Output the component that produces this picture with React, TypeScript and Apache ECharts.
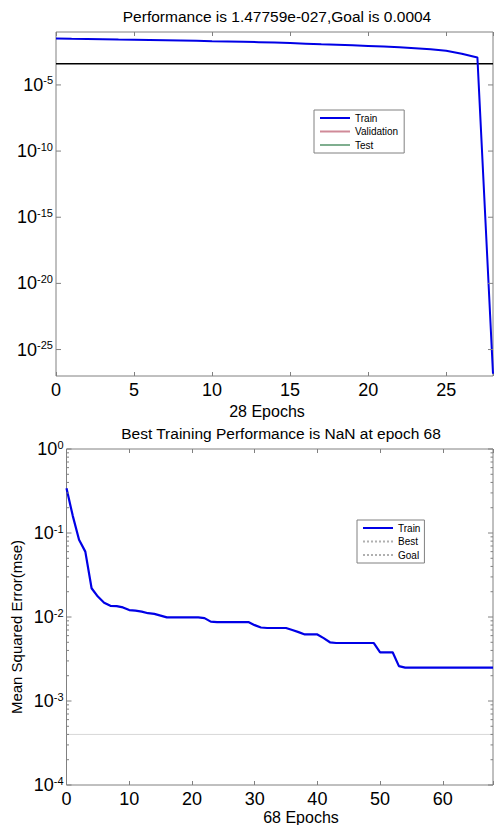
import React, { useEffect, useRef } from 'react';
import * as echarts from 'echarts';

const FONT = '"Liberation Sans", Arial, Helvetica, sans-serif';
const AXIS = '#808080';
const BLUE = '#0000e6';

// ---- Top chart data ----
const topTitle = 'Performance is 1.47759e-027,Goal is 0.0004';
const topXLabel = '28 Epochs';
const topEpochs = [0, 1, 2, 3, 4, 5, 6, 7, 8, 9, 10, 11, 12, 13, 14, 15, 16, 17, 18, 19, 20, 21, 22, 23, 24, 25, 26, 27, 28];
const topTrain = [
  0.0324, 0.0309, 0.0302, 0.0288, 0.0275, 0.0263, 0.0251, 0.024, 0.0229, 0.0219,
  0.0204, 0.0195, 0.0182, 0.017, 0.0158, 0.0145, 0.0132, 0.012, 0.011, 0.01,
  0.0089, 0.0079, 0.0069, 0.006, 0.005, 0.0038, 0.0023, 0.0012, 1.47759e-27,
];
const topGoal = 0.0004;
const topYMajor = [1e-25, 1e-20, 1e-15, 1e-10, 1e-5];
const topLegend = ['Train', 'Validation', 'Test'];

// ---- Bottom chart data ----
const botTitle = 'Best Training Performance is NaN at epoch 68';
const botXLabel = '68 Epochs';
const botYLabel = 'Mean Squared Error(mse)';
const botEpochs = [
  0, 1, 2, 3, 4, 5, 6, 7, 8, 9, 10, 11, 12, 13, 14, 15, 16, 17, 18, 19, 20, 21, 22, 23, 24, 25, 26, 27, 28, 29,
  30, 31, 32, 33, 34, 35, 36, 37, 38, 39, 40, 41, 42, 43, 44, 45, 46, 47, 48, 49, 50, 51, 52, 53, 54, 55, 56, 57, 58, 59,
  60, 61, 62, 63, 64, 65, 66, 67, 68,
];
const botTrain = [
  0.34, 0.16, 0.083, 0.06, 0.022, 0.0175, 0.0148, 0.0136, 0.0135, 0.013,
  0.0121, 0.0119, 0.0116, 0.0111, 0.0109, 0.0104, 0.0099, 0.0099, 0.0099, 0.0099,
  0.0099, 0.0099, 0.0097, 0.0088, 0.0087, 0.0087, 0.0087, 0.0087, 0.0087, 0.0087,
  0.008, 0.0075, 0.0074, 0.0074, 0.0074, 0.0074, 0.007, 0.0066, 0.0062, 0.0062,
  0.0062, 0.0056, 0.005, 0.0049, 0.0049, 0.0049, 0.0049, 0.0049, 0.0049, 0.0049,
  0.0038, 0.0038, 0.0038, 0.0026, 0.0025, 0.0025, 0.0025, 0.0025, 0.0025, 0.0025,
  0.0025, 0.0025, 0.0025, 0.0025, 0.0025, 0.0025, 0.0025, 0.0025, 0.0025,
];
const botGoal = 0.0004;
const botYMajor = [1e-4, 1e-3, 1e-2, 1e-1, 1];
const botMinorMantissas = [2, 3, 4, 5, 6, 7, 8, 9];
const botMinorDecades = [1e-4, 1e-3, 1e-2, 1e-1];
const botLegend = ['Train', 'Best', 'Goal'];

const botYMinor: number[] = [];
botMinorDecades.forEach((d) => botMinorMantissas.forEach((m) => botYMinor.push(m * d)));

const supRich = {
  b: { fontSize: 18, fontFamily: FONT, color: '#000', fill: '#000', lineHeight: 20 },
  s: { fontSize: 11, fontFamily: FONT, color: '#000', fill: '#000', verticalAlign: 'top', lineHeight: 12 },
};

const expLabel = (v: number) => `{b|10}{s|${Math.round(Math.log10(v))}}`;

// custom series: y ticks on both sides (and optional labels on the left), placed via axis scale
function yTicks(xAxisIndex: number, yAxisIndex: number, xMin: number, xMax: number, ticks: number[], len: number, labels: boolean) {
  return {
    type: 'custom',
    xAxisIndex,
    yAxisIndex,
    silent: true,
    clip: false,
    z: 5,
    encode: { x: 0, y: 1 },
    data: ticks.map((v) => [xMin, v]),
    renderItem: (_params: any, api: any) => {
      const v = api.value(1);
      const a = api.coord([xMin, v]);
      const b = api.coord([xMax, v]);
      const st = { stroke: AXIS, lineWidth: 1 };
      const children: any[] = [
        { type: 'line', shape: { x1: a[0], y1: a[1], x2: a[0] + len, y2: a[1] }, style: st },
        { type: 'line', shape: { x1: b[0] - len, y1: b[1], x2: b[0], y2: b[1] }, style: st },
      ];
      if (labels) {
        children.push({
          type: 'text',
          x: a[0] - 3,
          y: a[1],
          style: { text: expLabel(v), rich: supRich, align: 'right', verticalAlign: 'middle' },
        });
      }
      return { type: 'group', children };
    },
  };
}

function xAxis(gridIndex: number, max: number, interval: number, position: string, labels: boolean) {
  return {
    type: 'value',
    gridIndex,
    min: 0,
    max,
    interval,
    position,
    axisLine: { show: false },
    axisTick: { show: true, inside: true, length: 4, lineStyle: { color: AXIS } },
    splitLine: { show: false },
    axisLabel: labels
      ? {
          show: true,
          margin: 5,
          fontSize: 18,
          fontFamily: FONT,
          color: '#000',
          formatter: (v: number) => (v % interval === 0 ? String(v) : ''),
        }
      : { show: false },
  };
}

const legendCommon = {
  orient: 'vertical',
  itemWidth: 30,
  itemHeight: 10,
  itemGap: 3.5,
  backgroundColor: '#fff',
  borderColor: AXIS,
  borderWidth: 1,
  borderRadius: 0,
  selectedMode: false,
  itemStyle: { opacity: 0, borderWidth: 0 },
  textStyle: { fontSize: 10, fontFamily: FONT, color: '#000' },
};

export default function App() {
  const ref = useRef<HTMLDivElement>(null);
  useEffect(() => {
    if (!ref.current) return;
    const chart = echarts.init(ref.current, undefined, { renderer: 'svg' });
    const gridCommon = { show: true, borderColor: AXIS, borderWidth: 1, backgroundColor: '#fff' };
    const option: any = {
      animation: false,
      backgroundColor: '#fff',
      grid: [
        { ...gridCommon, left: 56, top: 32, width: 440, height: 344 },
        { ...gridCommon, left: 66.5, top: 449, width: 430, height: 336 },
      ],
      xAxis: [
        xAxis(0, 28, 5, 'bottom', true),
        xAxis(0, 28, 5, 'top', false),
        xAxis(1, 68, 10, 'bottom', true),
        xAxis(1, 68, 10, 'top', false),
      ],
      yAxis: [
        {
          type: 'log',
          gridIndex: 0,
          logBase: 10,
          min: 1e-27,
          max: 1e-1,
          axisLine: { show: false },
          axisTick: { show: false },
          splitLine: { show: false },
          axisLabel: { show: false },
        },
        {
          type: 'log',
          gridIndex: 1,
          logBase: 10,
          min: 1e-4,
          max: 1,
          axisLine: { show: false },
          axisTick: { show: false },
          splitLine: { show: false },
          axisLabel: { margin: 3, rich: supRich, formatter: expLabel },
        },
      ],
      legend: [
        { ...legendCommon, data: topLegend, left: 314, top: 110, padding: [3, 6, 3, 5] },
        { ...legendCommon, data: botLegend, left: 357, top: 520, padding: [3, 4, 3, 5] },
      ],
      graphic: [
        { type: 'text', x: 277, y: 16, style: { text: topTitle, fontSize: 15.5, fontFamily: FONT, fill: '#000', align: 'center', verticalAlign: 'middle' } },
        { type: 'text', x: 267, y: 411, style: { text: topXLabel, fontSize: 16, fontFamily: FONT, fill: '#000', align: 'center', verticalAlign: 'middle' } },
        { type: 'text', x: 281, y: 433, style: { text: botTitle, fontSize: 15.5, fontFamily: FONT, fill: '#000', align: 'center', verticalAlign: 'middle' } },
        { type: 'text', x: 301, y: 817.5, style: { text: botXLabel, fontSize: 16, fontFamily: FONT, fill: '#000', align: 'center', verticalAlign: 'middle' } },
        { type: 'text', x: 16.5, y: 627, rotation: Math.PI / 2, style: { text: botYLabel, fontSize: 15, fontFamily: FONT, fill: '#000', align: 'center', verticalAlign: 'middle' } },
      ],
      series: [
        {
          name: 'Goal line',
          type: 'line',
          xAxisIndex: 0,
          yAxisIndex: 0,
          symbol: 'none',
          silent: true,
          lineStyle: { color: '#000', width: 1.6 },
          data: [[topEpochs[0], topGoal], [topEpochs[topEpochs.length - 1], topGoal]],
          z: 3,
        },
        {
          name: 'Train',
          type: 'line',
          xAxisIndex: 0,
          yAxisIndex: 0,
          symbol: 'none',
          color: BLUE,
          lineStyle: { color: BLUE, width: 2 },
          data: topEpochs.map((e, i) => [e, topTrain[i]]),
          z: 4,
        },
        { name: 'Validation', type: 'line', xAxisIndex: 0, yAxisIndex: 0, symbol: 'none', color: '#d08a98', lineStyle: { color: '#d08a98', width: 1 }, data: [] },
        { name: 'Test', type: 'line', xAxisIndex: 0, yAxisIndex: 0, symbol: 'none', color: '#7fae8f', lineStyle: { color: '#7fae8f', width: 1 }, data: [] },
        yTicks(0, 0, topEpochs[0], topEpochs[topEpochs.length - 1], topYMajor, 5, true),

        {
          name: 'Train',
          type: 'line',
          xAxisIndex: 2,
          yAxisIndex: 1,
          symbol: 'none',
          color: BLUE,
          lineStyle: { color: BLUE, width: 2.2 },
          data: botEpochs.map((e, i) => [e, botTrain[i]]),
          z: 4,
        },
        { name: 'Best', type: 'line', xAxisIndex: 2, yAxisIndex: 1, symbol: 'none', color: '#b0b0b0', lineStyle: { color: '#b0b0b0', width: 1, type: 'dotted' }, data: [] },
        {
          name: 'Goal',
          type: 'line',
          xAxisIndex: 2,
          yAxisIndex: 1,
          symbol: 'none',
          color: '#b0b0b0',
          lineStyle: { color: '#b0b0b0', width: 1, type: 'dotted' },
          data: [[botEpochs[0], botGoal], [botEpochs[botEpochs.length - 1], botGoal]],
          z: 3,
        },
        yTicks(2, 1, botEpochs[0], botEpochs[botEpochs.length - 1], botYMajor, 5, false),
        yTicks(2, 1, botEpochs[0], botEpochs[botEpochs.length - 1], botYMinor, 2.5, false),
      ],
    };
    chart.setOption(option);
    return () => chart.dispose();
  }, []);
  return <div ref={ref} style={{ position: 'absolute', left: 0, top: 0, width: 496, height: 825, background: '#fff' }} />;
}
